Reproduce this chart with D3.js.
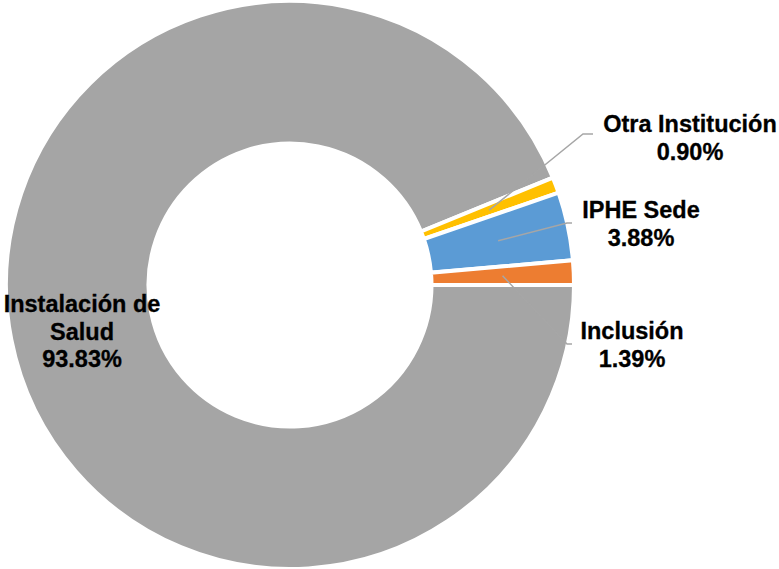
<!DOCTYPE html>
<html>
<head>
<meta charset="utf-8">
<script src="https://cdn.jsdelivr.net/npm/d3@7"></script>
<style>
  body { margin: 0; background: #fff; }
  text { font-family: "Liberation Sans", Arial, sans-serif; font-weight: bold; }
</style>
</head>
<body>
<div id="chart"></div>
<script>
// data, in the order the slices are drawn (clockwise from 3 o'clock)
var categories = ["Instalación de Salud", "Otra Institución", "IPHE Sede", "Inclusión"];
var values = [93.83, 0.90, 3.88, 1.39];
var colors = ["#a5a5a5", "#ffc000", "#5b9bd5", "#ed7d31"];

var svgWidth = 779;
var svgHeight = 569;
var cx = 290, cy = 285;
var outerR = 284, innerR = 141.5;

var svg = d3.select("#chart")
  .append("svg")
  .attr("width", svgWidth)
  .attr("height", svgHeight);

var chartGroup = svg.append("g")
  .attr("transform", `translate(${cx}, ${cy})`);

var pie = d3.pie()
  .sort(null)
  .startAngle(Math.PI / 2)
  .endAngle(Math.PI / 2 + 2 * Math.PI)
  .value(d => d);

var arc = d3.arc()
  .innerRadius(innerR)
  .outerRadius(outerR);

var arcs = pie(values);

chartGroup.selectAll("path.slice")
  .data(arcs)
  .enter()
  .append("path")
  .attr("class", "slice")
  .attr("d", arc)
  .attr("fill", (d, i) => colors[i])
  .attr("stroke", "#fff")
  .attr("stroke-width", 4);

// label layout (page coords): text lines + leader elbow
var labelLayout = [
  { x: 82, y: 312, lines: ["Instalación de", "Salud"], leader: null },
  { x: 690, y: 132, lines: ["Otra Institución"], leader: [[583, 134], [593, 134]] },
  { x: 641, y: 218, lines: ["IPHE Sede"], leader: [[567, 223], [572, 223]] },
  { x: 632, y: 339, lines: ["Inclusión"], leader: [[567, 344], [572, 344]] }
];

// leader lines from slice centroid
arcs.forEach(function(d, i) {
  var lay = labelLayout[i];
  if (!lay.leader) return;
  var c = arc.centroid(d);
  var pts = [[c[0] + cx, c[1] + cy]].concat(lay.leader);
  svg.append("path")
    .attr("d", d3.line()(pts))
    .attr("fill", "none")
    .attr("stroke", "#a6a6a6")
    .attr("stroke-width", 1.5);
});

// labels
arcs.forEach(function(d, i) {
  var lay = labelLayout[i];
  var t = svg.append("text")
    .attr("text-anchor", "middle")
    .attr("font-size", "23.5px")
    .attr("fill", "#000")
    .attr("stroke", "#000")
    .attr("stroke-width", 0.3);
  var allLines = lay.lines.concat([values[i].toFixed(2) + "%"]);
  allLines.forEach(function(s, k) {
    t.append("tspan")
      .attr("x", lay.x)
      .attr("y", lay.y + k * 27.5)
      .text(s);
  });
});
</script>
</body>
</html>
